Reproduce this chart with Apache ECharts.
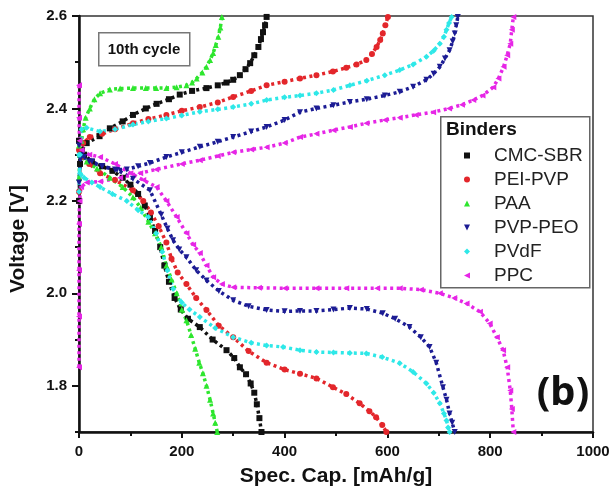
<!DOCTYPE html>
<html>
<head>
<meta charset="utf-8">
<script src="https://cdn.jsdelivr.net/npm/echarts@6/dist/echarts.min.js"></script>
<style>
	html, body { margin: 0; padding: 0; background: #fff; }
	#main { width: 616px; height: 497px; }
</style>
</head>
<body>
<div id="main"></div>
<script>
// binders
var binders = ['CMC-SBR', 'PEI-PVP', 'PAA', 'PVP-PEO', 'PVdF', 'PPC'];
var colors = ['#111111', '#e3262b', '#2ee62e', '#1c1c94', '#2ee8e8', '#e626e6'];
// square, circle, up / down triangle, diamond, left triangle
var symbols = [
	'path://M0,0L10,0L10,10L0,10Z',
	'circle',
	'path://M5,0L10,10L0,10Z',
	'path://M0,0L10,0L5,10Z',
	'path://M5,0L10,5L5,10L0,5Z',
	'path://M10,0L10,10L0,5Z'
];

var xTicks = [0, 200, 400, 600, 800, 1000];
var yTicks = [1.8, 2.0, 2.2, 2.4, 2.6];

// [capacity mAh/g, voltage V]
var cmcDischarge = [[0,2.33],[3,2.31],[10,2.30],[25,2.285],[45,2.275],[65,2.265],[85,2.25],[100,2.235],[115,2.215],[128,2.19],[138,2.165],[148,2.135],[158,2.10],[166,2.06],[175,2.025],[186,1.99],[198,1.965],[212,1.945],[235,1.927],[260,1.9],[287,1.877],[302,1.86],[313,1.84],[325,1.825],[334,1.805],[341,1.785],[346,1.76],[351,1.73],[355,1.70]];
var cmcCharge = [[0,2.2],[2,2.28],[5,2.31],[15,2.325],[40,2.34],[60,2.357],[85,2.372],[105,2.386],[130,2.40],[151,2.41],[175,2.42],[196,2.43],[220,2.438],[248,2.444],[270,2.45],[287,2.456],[300,2.462],[313,2.472],[324,2.485],[333,2.498],[341,2.515],[349,2.533],[354,2.55],[358,2.565],[362,2.58],[365,2.598]];

var peiDischarge = [[0,2.31],[5,2.295],[20,2.28],[41,2.26],[70,2.245],[105,2.223],[125,2.20],[140,2.175],[155,2.145],[170,2.11],[180,2.075],[192,2.045],[209,2.02],[228,1.99],[248,1.964],[272,1.93],[300,1.905],[330,1.875],[365,1.85],[400,1.835],[430,1.826],[462,1.816],[494,1.797],[520,1.782],[546,1.762],[565,1.745],[578,1.732],[590,1.715],[598,1.70]];
var peiCharge = [[0,2.22],[3,2.30],[8,2.325],[21,2.338],[45,2.345],[70,2.355],[105,2.368],[135,2.377],[170,2.386],[200,2.395],[235,2.403],[270,2.413],[300,2.425],[335,2.438],[365,2.45],[400,2.458],[430,2.465],[462,2.472],[494,2.48],[520,2.488],[540,2.495],[559,2.505],[570,2.518],[579,2.533],[586,2.548],[591,2.562],[596,2.58],[601,2.598]];

var paaDischarge = [[0,2.32],[3,2.30],[15,2.285],[35,2.27],[60,2.25],[85,2.23],[105,2.208],[120,2.185],[135,2.155],[148,2.13],[160,2.10],[170,2.06],[180,2.03],[190,2.00],[200,1.965],[209,1.942],[218,1.91],[226,1.88],[234,1.85],[241,1.827],[248,1.80],[255,1.77],[261,1.74],[265,1.72],[269,1.70]];
var paaCharge = [[0,2.25],[2,2.30],[5,2.33],[8,2.355],[13,2.38],[21,2.40],[30,2.42],[41,2.433],[60,2.441],[80,2.443],[105,2.444],[130,2.444],[150,2.444],[170,2.444],[190,2.446],[209,2.45],[220,2.456],[229,2.465],[240,2.478],[248,2.49],[255,2.505],[261,2.52],[266,2.537],[271,2.555],[275,2.575],[278,2.598]];

var pvpDischarge = [[0,2.32],[5,2.30],[20,2.285],[45,2.275],[74,2.267],[105,2.248],[138,2.223],[160,2.17],[172,2.14],[183,2.115],[195,2.095],[209,2.078],[228,2.05],[248,2.028],[272,2.005],[300,1.985],[330,1.972],[365,1.964],[400,1.961],[430,1.962],[462,1.962],[495,1.965],[527,1.968],[560,1.966],[591,1.957],[615,1.945],[643,1.927],[665,1.905],[682,1.884],[695,1.85],[708,1.797],[715,1.77],[721,1.74],[726,1.72],[731,1.70]];
var pvpCharge = [[0,2.24],[3,2.29],[10,2.295],[25,2.285],[45,2.275],[70,2.268],[93,2.268],[115,2.275],[138,2.282],[170,2.295],[200,2.305],[235,2.317],[270,2.328],[300,2.338],[335,2.35],[365,2.36],[400,2.375],[430,2.392],[462,2.40],[495,2.407],[527,2.414],[560,2.42],[595,2.428],[624,2.436],[650,2.447],[676,2.462],[690,2.475],[702,2.49],[712,2.508],[721,2.526],[727,2.545],[731,2.562],[734,2.58],[737,2.598]];

var pvdfDischarge = [[0,2.30],[2,2.26],[10,2.25],[25,2.24],[41,2.23],[65,2.215],[93,2.20],[115,2.18],[135,2.165],[150,2.13],[162,2.09],[172,2.05],[183,2.01],[200,1.98],[215,1.965],[235,1.949],[265,1.925],[300,1.905],[335,1.893],[365,1.887],[397,1.884],[430,1.877],[462,1.873],[495,1.872],[527,1.871],[559,1.87],[590,1.862],[624,1.849],[650,1.83],[676,1.805],[690,1.785],[702,1.762],[710,1.74],[715,1.725],[718,1.71],[721,1.70]];
var pvdfCharge = [[0,2.22],[2,2.30],[5,2.355],[15,2.358],[41,2.35],[70,2.355],[105,2.365],[135,2.372],[170,2.378],[200,2.385],[235,2.393],[270,2.398],[300,2.403],[335,2.41],[365,2.418],[400,2.424],[430,2.428],[462,2.433],[495,2.44],[527,2.45],[560,2.46],[595,2.472],[624,2.483],[650,2.495],[676,2.512],[690,2.525],[702,2.54],[710,2.555],[715,2.57],[720,2.585],[725,2.598]];

var ppcDischarge = [[0,2.45],[0,2.38],[1,2.33],[5,2.31],[20,2.30],[41,2.295],[70,2.28],[100,2.26],[125,2.245],[151,2.23],[170,2.2],[190,2.165],[209,2.13],[222,2.105],[235,2.087],[248,2.06],[261,2.035],[278,2.02],[300,2.013],[350,2.012],[400,2.011],[462,2.011],[520,2.011],[580,2.011],[624,2.011],[665,2.008],[702,2.0],[730,1.99],[754,1.978],[780,1.96],[799,1.935],[813,1.905],[825,1.877],[833,1.84],[839,1.79],[842,1.75],[845,1.70]];
var ppcCharge = [[0,1.84],[0,1.95],[0,2.05],[0,2.15],[1,2.2],[4,2.23],[15,2.24],[41,2.242],[80,2.25],[119,2.26],[150,2.268],[200,2.28],[235,2.288],[270,2.297],[300,2.305],[335,2.311],[365,2.316],[400,2.325],[430,2.338],[462,2.345],[495,2.353],[527,2.36],[559,2.368],[595,2.375],[624,2.38],[655,2.386],[689,2.392],[720,2.40],[745,2.408],[767,2.418],[785,2.428],[806,2.446],[816,2.465],[826,2.49],[833,2.515],[839,2.54],[842,2.57],[845,2.598]];

var curves = [
	[cmcDischarge, cmcCharge],
	[peiDischarge, peiCharge],
	[paaDischarge, paaCharge],
	[pvpDischarge, pvpCharge],
	[pvdfDischarge, pvdfCharge],
	[ppcDischarge, ppcCharge]
];

var font = '"Liberation Sans", Arial, sans-serif';

var series = [];
var legendData = [];
for(var i = 0; i < binders.length; i++) {
	legendData.push({ name: binders[i], icon: symbols[i] });
	for(var k = 0; k < 2; k++) {
		series.push({
			name: binders[i],
			type: 'line',
			data: curves[i][k],
			symbol: symbols[i],
			symbolSize: 6,
			showSymbol: true,
			showAllSymbol: true,
			itemStyle: { color: colors[i] },
			// dense dotted stroke stands in for the closely packed markers
			lineStyle: { color: colors[i], width: 3.5, type: [3, 3.5] },
			emphasis: { disabled: true }
		});
	}
}

var myChart = echarts.init(document.getElementById('main'));
var option = {
	animation: false,
	backgroundColor: '#fff',
	grid: {
		left: 79, right: 23, top: 16, bottom: 65,
		show: true, borderColor: '#333', borderWidth: 1.5
	},
	xAxis: {
		type: 'value', min: 0, max: 1000, interval: 200,
		name: 'Spec. Cap. [mAh/g]', nameLocation: 'middle', nameGap: 34,
		nameTextStyle: { fontFamily: font, fontWeight: 'bold', fontSize: 21, color: '#111' },
		axisLine: { lineStyle: { color: '#111', width: 2.5 } },
		axisTick: { show: true, inside: false, length: 6, lineStyle: { color: '#111', width: 2 } },
		minorTick: { show: true, splitNumber: 2, length: 4, lineStyle: { color: '#111', width: 2 } },
		axisLabel: {
			margin: 12, fontFamily: font, fontWeight: 'bold', fontSize: 15, color: '#111',
			formatter: function(v) { return xTicks.indexOf(v) >= 0 ? String(v) : ''; }
		},
		splitLine: { show: false }
	},
	yAxis: [{
		type: 'value', min: 1.7, max: 2.6, interval: 0.1,
		axisLine: { lineStyle: { color: '#111', width: 2.5 } },
		axisTick: { show: true, length: 4, lineStyle: { color: '#111', width: 2 } },
		axisLabel: {
			margin: 12, fontFamily: font, fontWeight: 'bold', fontSize: 15, color: '#111',
			formatter: function(v) {
				var r = Math.round(v * 10) / 10;
				for(var j = 0; j < yTicks.length; j++) {
					if(Math.abs(yTicks[j] - r) < 1e-6) return r.toFixed(1);
				}
				return '';
			}
		},
		splitLine: { show: false }
	}, {
		type: 'value', min: 1.7, max: 2.6, position: 'left',
		axisLine: { show: false },
		axisTick: { show: true, length: 7, customValues: yTicks, lineStyle: { color: '#111', width: 2 } },
		axisLabel: { show: false },
		splitLine: { show: false }
	}],
	legend: {
		data: legendData,
		orient: 'vertical',
		left: 464, top: 146,
		padding: 0,
		itemWidth: 44, itemHeight: 6, itemGap: 5,
		symbolKeepAspect: true,
		selectedMode: false,
		itemStyle: { borderWidth: 0 },
		lineStyle: { width: 0 },
		textStyle: { fontFamily: font, fontSize: 19, color: '#222' }
	},
	graphic: [{
		type: 'rect', left: 440, top: 116, z: 1,
		shape: { width: 149, height: 171 },
		style: { fill: '#fff', stroke: '#666', lineWidth: 1.5 }
	}, {
		type: 'text', x: 446, y: 130, z: 5,
		style: { text: 'Binders', fontFamily: font, fontWeight: 'bold', fontSize: 19, fill: '#111', textVerticalAlign: 'middle' }
	}, {
		type: 'rect', left: 98, top: 32, z: 1,
		shape: { width: 91, height: 33 },
		style: { fill: '#fff', stroke: '#777', lineWidth: 1.5 }
	}, {
		type: 'text', x: 144, y: 50, z: 5,
		style: { text: '10th cycle', fontFamily: font, fontWeight: 'bold', fontSize: 15, fill: '#111', textAlign: 'center', textVerticalAlign: 'middle' }
	}, {
		type: 'text', x: 18, y: 239, rotation: Math.PI / 2, z: 5,
		style: { text: 'Voltage [V]', fontFamily: font, fontWeight: 'bold', fontSize: 21, fill: '#111', textAlign: 'center', textVerticalAlign: 'middle' }
	}, {
		type: 'text', x: 563, y: 394, z: 5,
		style: { text: '(b)', fontFamily: '"Noto Sans", sans-serif', fontWeight: 'bold', fontSize: 40, fill: '#111', textAlign: 'center', textVerticalAlign: 'middle' }
	}],
	series: series
};
myChart.setOption(option);
</script>
</body>
</html>
